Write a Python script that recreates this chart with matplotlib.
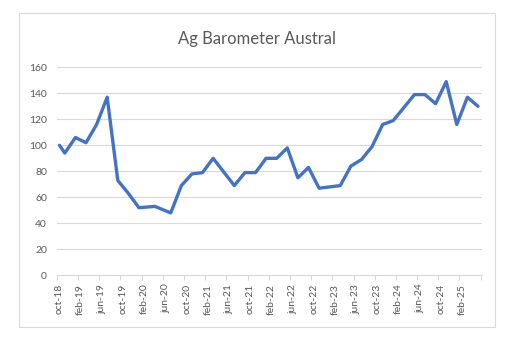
import matplotlib.pyplot as plt
from matplotlib.patches import Rectangle

# months counted from oct-18, value of the barometer at that survey
months = [0, 1, 3, 5, 7, 9, 11, 13, 15, 18, 21, 23, 25, 27, 29, 33, 35, 37, 39,
          41, 43, 45, 47, 49, 53, 55, 57, 59, 61, 63, 65, 67, 69, 71, 73, 75, 77, 79]
values = [100, 94, 106, 102, 116, 137, 73, 63, 52, 53, 48, 69, 78, 79, 90, 69, 79, 79, 90,
          90, 98, 75, 83, 67, 69, 84, 89, 99, 116, 119, 129, 139, 139, 132, 149, 116, 137, 130]
tick_labels = ['oct-18', 'feb-19', 'jun-19', 'oct-19', 'feb-20', 'jun-20', 'oct-20',
               'feb-21', 'jun-21', 'oct-21', 'feb-22', 'jun-22', 'oct-22', 'feb-23',
               'jun-23', 'oct-23', 'feb-24', 'jun-24', 'oct-24', 'feb-25']

plt.rcParams['font.family'] = ['Lato', 'DejaVu Sans']
grey = '#595959'
light = '#d9d9d9'

fig = plt.figure(figsize=(5.06, 3.37), dpi=100)
fig.patches.append(Rectangle((19.5 / 506, 1 - 326.5 / 337), 476 / 506, 313.5 / 337,
                             transform=fig.transFigure, fill=False,
                             edgecolor=light, linewidth=0.8))
ax = fig.add_axes([56.7 / 506, 1 - 275.3 / 337, 425 / 506, 208 / 337])

ax.plot(months, values, color='#4472C4', linewidth=2.4, solid_joinstyle='round',
        solid_capstyle='round')

ax.set_ylim(0, 160)
ax.set_yticks(range(0, 161, 20))
ax.set_xlim(-0.53, 79.7)
ax.set_xticks(range(0, 4 * len(tick_labels), 4))
ax.set_xticklabels(tick_labels, rotation=90)
ax.set_xticks([x - 0.5 for x in range(0, 81, 4)], minor=True)

ax.grid(axis='y', color=light, linewidth=0.8)
ax.set_axisbelow(True)
for side in ['top', 'right', 'left']:
    ax.spines[side].set_visible(False)
ax.spines['bottom'].set_color(light)
ax.spines['bottom'].set_linewidth(0.8)

ax.tick_params(axis='y', length=0, pad=7, labelsize=7.5, labelcolor=grey)
ax.tick_params(axis='x', which='major', length=0, pad=6, labelsize=7.5, labelcolor=grey)
ax.tick_params(axis='x', which='minor', length=3.5, width=0.8, color=light)

fig.text(256.7 / 506, 1 - 39 / 337, 'Ag Barometer Austral', ha='center', va='center',
         fontsize=12, color=grey)

fig.savefig('out.png', dpi=100)
